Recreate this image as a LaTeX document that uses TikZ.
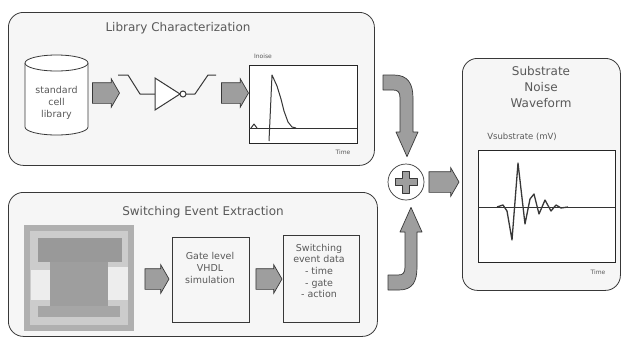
\documentclass[tikz,border=0pt]{standalone}
\usepackage{fontspec}
\setmainfont{DejaVu Sans}
\usetikzlibrary{shapes.arrows,shapes.geometric,calc}
\definecolor{ink}{gray}{0.22}
\definecolor{textink}{gray}{0.35}
\definecolor{panelfill}{gray}{0.965}
\definecolor{hatch}{gray}{0.62}
\begin{document}
\begin{tikzpicture}[x=1pt,y=-1pt,
  panel/.style={draw=ink, line width=0.8pt, fill=panelfill, rounded corners=15pt, inner sep=0pt, anchor=north west},
  title/.style={text=textink, font=\fontsize{12}{16}\selectfont, inner sep=0pt, align=center},
  lbl/.style={text=textink, font=\fontsize{9.5}{12.2}\selectfont, align=center, inner sep=0pt},
  tinylbl/.style={text=textink, font=\fontsize{6}{7}\selectfont, inner sep=0pt},
  fatarrow/.style={single arrow, draw=ink, line width=0.7pt, fill=hatch, inner xsep=0pt, inner ysep=10pt,
    single arrow head extend=4pt, single arrow tip angle=120},
  plotbox/.style={draw=black!85, line width=1.1pt, fill=white, inner sep=0pt, anchor=north west},
  simbox/.style={draw=ink, line width=0.6pt, fill=panelfill, inner sep=0pt, anchor=north west},
  trace/.style={draw=ink, line width=1pt, line join=round},
  curvearrow/.style={draw=ink, line width=0.7pt, fill=hatch, line join=round}
]
\useasboundingbox (0,0) rectangle (624,338);
\fill[white] (0,0) rectangle (624,338);

% ---------------- panels ----------------
\node[panel, minimum width=366pt, minimum height=153pt] (libpanel) at (8,12) {};
\node[panel, minimum width=369pt, minimum height=144pt] (sepanel) at (8,192) {};
\node[panel, minimum width=158pt, minimum height=232pt] (wavepanel) at (462,58) {};

\node[title] (libtitle) at (178,28) {Library Characterization};
\node[title] (setitle) at (203,212) {Switching Event Extraction};
\node[title] (wavetitle) at (541,87) {Substrate\\Noise\\Waveform};

% ---------------- cell library (cylinder) ----------------
\draw[draw=ink, line width=0.8pt, fill=white]
  (25,63) -- (25,127) arc[start angle=180, end angle=0, x radius=31.5, y radius=8] -- (88,63);
\draw[draw=ink, line width=0.8pt, fill=white] (56.5,63) ellipse[x radius=31.5, y radius=8];
\node[lbl] (cellib) at (56.5,103) {standard\\cell\\library};

% ---------------- inverter ----------------
\draw[trace] (118,75) -- (128,75) -- (140,94) -- (155,94);
\draw[draw=ink, line width=1pt, fill=white] (155,78) -- (180,94) -- (155,110) -- cycle;
\draw[draw=ink, line width=1pt, fill=white] (183,94) circle[radius=3];
\draw[trace] (186,94) -- (195,94) -- (208,75) -- (216,75);
\coordinate (inv) at (167,94);

% ---------------- characterised current pulse ----------------
\node[plotbox, minimum width=108pt, minimum height=78pt] (pulseplot) at (249,65) {};
\draw[draw=black!80, line width=1pt] (249,128) -- (357,128);
\draw[trace] (251,128) -- (254,124) -- (257,128);
\draw[trace] (269,141) -- (272,75) -- (277,86) -- (281,99) -- (284,111) -- (288,122) -- (292,127) -- (296,128);
\node[tinylbl] (inoise) at (263,56) {Inoise};
\node[tinylbl] (ptime) at (343,152) {Time};

% ---------------- layout view ----------------
\fill[gray!62] (24,225) rectangle (134,331);
\fill[gray!40] (30,231) rectangle (128,325);
\fill[gray!80] (38,238) rectangle (122,262);
\fill[gray!76] (50,262) rectangle (108,308);
\fill[gray!70] (38,306) rectangle (120,317);
\fill[gray!14] (31,270) rectangle (50,300);
\fill[gray!14] (108,267) rectangle (128,300);
\node[inner sep=0pt, minimum width=110pt, minimum height=106pt, anchor=north west] (layout) at (24,225) {};

% ---------------- simulation boxes ----------------
\node[simbox, minimum width=77pt, minimum height=85pt] (vhdl) at (172,237) {};
\node[lbl] (vhdltext) at (210,268) {Gate level\\VHDL\\simulation};
\node[simbox, minimum width=76pt, minimum height=87pt] (events) at (283,235) {};
\node[lbl, font=\fontsize{9.5}{11.6}\selectfont] (eventtext) at (319,271) {Switching\\event data\\- time\\- gate\\- action};

% ---------------- straight fat arrows ----------------
\node[fatarrow, minimum height=27pt] (a1) at (103,93) {};
\node[fatarrow, minimum height=27pt] (a2) at (232,93) {};
\node[fatarrow, minimum height=24pt] (a3) at (154,279) {};
\node[fatarrow, minimum height=26pt] (a4) at (266,279) {};

% ---------------- summation ----------------
\node[circle, draw=ink, line width=0.7pt, fill=white, minimum size=36pt, inner sep=0pt] (plus) at (406,182) {};
\draw[curvearrow] (402.5,171) -- (409.5,171) -- (409.5,178.5) -- (417,178.5) -- (417,185.5) -- (409.5,185.5)
  -- (409.5,193) -- (402.5,193) -- (402.5,185.5) -- (395,185.5) -- (395,178.5) -- (402.5,178.5) -- cycle;

% curved arrows from both panels into the adder
\draw[curvearrow] (383,75) -- (394,75) .. controls (408,75) and (413,84) .. (413,98) -- (413,132) -- (418,132)
  -- ($(plus.north)+(1,-7)$) -- (396,132) -- (400,132) -- (400,98) .. controls (400,92) and (398,90) .. (393,90)
  -- (383,90) -- cycle;
\draw[curvearrow] (388,290) -- (399,290) .. controls (413,290) and (417,281) .. (417,267) -- (417,232) -- (422,232)
  -- ($(plus.south)+(5,7)$) -- (400,232) -- (405,232) -- (405,267) .. controls (405,273) and (403,275) .. (398,275)
  -- (388,275) -- cycle;

\node[fatarrow, minimum height=30pt] (a5) at (441,182) {};

% ---------------- resulting waveform ----------------
\node[lbl, font=\fontsize{8.5}{10}\selectfont] (vsub) at (522,137) {Vsubstrate (mV)};
\node[plotbox, minimum width=137pt, minimum height=112pt] (waveplot) at (478,150) {};
\draw[draw=black!80, line width=1pt] (478,207) -- (615,207);
\draw[trace, line width=1.3pt] (497,207) -- (503,205) -- (507,211) -- (512,240) -- (518,163) -- (525,224)
  -- (530,199) -- (534,194) -- (539,214) -- (545,200) -- (551,211) -- (556,205) -- (561,208) -- (568,207);
\node[tinylbl] (wtime) at (598,272) {Time};
\end{tikzpicture}
\end{document}
